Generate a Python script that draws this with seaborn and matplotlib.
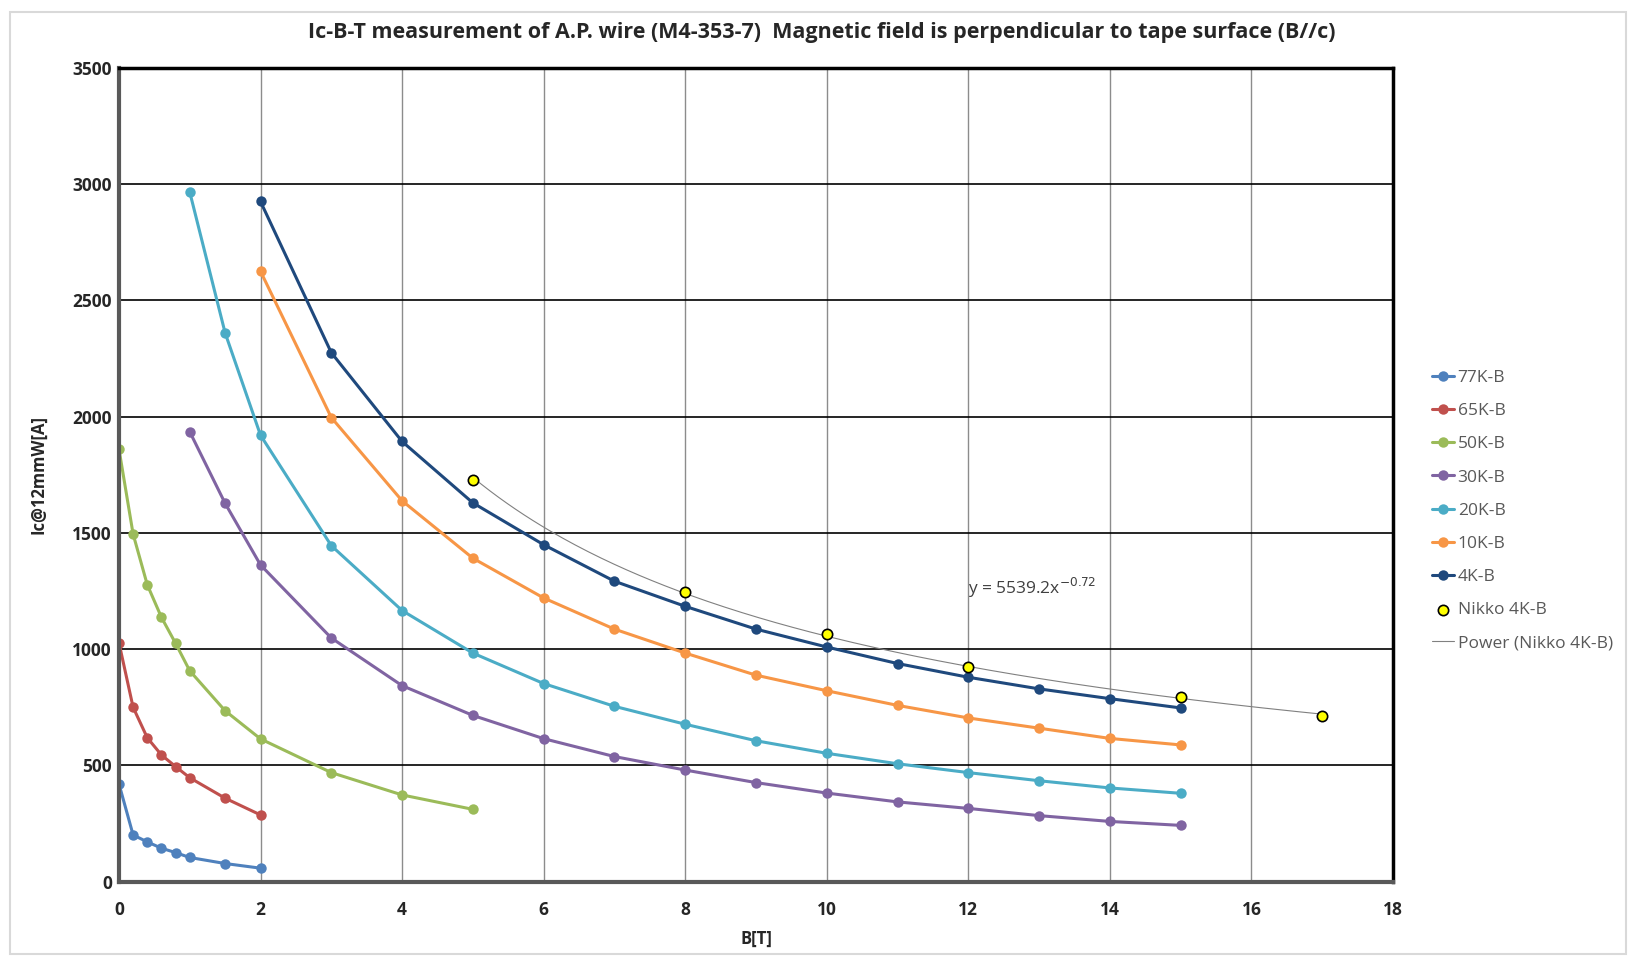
import numpy as np
import pandas as pd
import matplotlib
matplotlib.use("Agg")
import matplotlib.pyplot as plt
import seaborn as sns

# field values [T]
b_low = [0, 0.2, 0.4, 0.6, 0.8, 1.0, 1.5, 2]
b_50k = [0, 0.2, 0.4, 0.6, 0.8, 1.0, 1.5, 2, 3, 4, 5]
b_30k = [1, 1.5, 2, 3, 4, 5, 6, 7, 8, 9, 10, 11, 12, 13, 14, 15]
b_4k = [2, 3, 4, 5, 6, 7, 8, 9, 10, 11, 12, 13, 14, 15]
b_nikko = [5, 8, 10, 12, 15, 17]

# Ic values [A]
ic_77k = [421, 201, 171, 144, 125, 104, 78, 58]
ic_65k = [1028, 750, 619, 545, 495, 447, 359, 287]
ic_50k = [1861, 1495, 1277, 1137, 1025, 907, 735, 614, 469, 373, 311]
ic_30k = [1935, 1627, 1362, 1048, 843, 715, 615, 538, 480, 426, 381, 343, 315, 284, 259, 242]
ic_20k = [2966, 2360, 1920, 1445, 1166, 983, 852, 754, 677, 606, 552, 507, 469, 434, 403, 380]
ic_10k = [2625, 1996, 1638, 1391, 1220, 1086, 983, 888, 821, 758, 704, 660, 616, 588]
ic_4k = [2925, 2275, 1893, 1629, 1449, 1292, 1184, 1086, 1009, 938, 879, 829, 787, 747]
ic_nikko = [1727, 1247, 1063, 923, 792, 713]

fit_a = 5539.2
fit_k = -0.72

series = [
    ("77K-B", b_low, ic_77k, "#4F81BD"),
    ("65K-B", b_low, ic_65k, "#C0504D"),
    ("50K-B", b_50k, ic_50k, "#9BBB59"),
    ("30K-B", b_30k, ic_30k, "#8064A2"),
    ("20K-B", [1, 1.5] + b_4k, ic_20k, "#4BACC6"),
    ("10K-B", b_4k, ic_10k, "#F79646"),
    ("4K-B", b_4k, ic_4k, "#1F497D"),
]

sns.set_style("white")
plt.rcParams['font.family'] = ['Open Sans', 'DejaVu Sans']

fig = plt.figure(figsize=(16.36, 9.6), dpi=100)
ax = fig.add_axes([0.0727, 0.0816, 0.7788, 0.8478])

for name, xs, ys, col in series:
    df = pd.DataFrame({"B": xs, "Ic": ys})
    sns.lineplot(data=df, x="B", y="Ic", ax=ax, color=col, lw=2.2,
                 marker="o", markersize=7.5, markeredgewidth=0, label=name)

nikko = pd.DataFrame({"B": b_nikko, "Ic": ic_nikko})
sns.scatterplot(data=nikko, x="B", y="Ic", ax=ax, color="#FFFF00",
                edgecolor="black", linewidth=1.2, s=55, zorder=5,
                label="Nikko 4K-B")

xf = np.linspace(min(b_nikko), max(b_nikko), 200)
fit = pd.DataFrame({"B": xf, "Ic": fit_a * xf ** fit_k})
sns.lineplot(data=fit, x="B", y="Ic", ax=ax, color="#808080", lw=0.8,
             label="Power (Nikko 4K-B)", zorder=1)

ax.set_xlim(0, 18)
ax.set_ylim(0, 3500)
ax.set_xticks(range(0, 19, 2))
ax.set_yticks(range(0, 3501, 500))
ax.xaxis.grid(True, color="#8c8c8c", lw=1)
ax.yaxis.grid(True, color="black", lw=1.2)
ax.set_axisbelow(True)
for s in ["top", "right"]:
    ax.spines[s].set_color("black")
    ax.spines[s].set_linewidth(2.5)
for s in ["left", "bottom"]:
    ax.spines[s].set_color("#595959")
    ax.spines[s].set_linewidth(3)
ax.tick_params(axis="y", length=0, pad=5, labelsize=12.5)
ax.tick_params(axis="x", length=0, pad=14, labelsize=12.5)
for lab in ax.get_xticklabels() + ax.get_yticklabels():
    lab.set_fontweight("bold")

ax.set_xlabel("B[T]", fontsize=12, fontweight="bold", labelpad=8)
ax.set_ylabel("Ic@12mmW[A]", fontsize=12, fontweight="bold", labelpad=18)
fig.suptitle("Ic-B-T measurement of A.P. wire (M4-353-7)  Magnetic field is perpendicular to tape surface (B//c)",
             x=0.502, y=0.966, fontsize=15.5, fontweight="bold", va="center")

ax.text(12.0, 1235, "y = 5539.2x$^{-0.72}$", fontsize=12.5, color="#404040")

leg = ax.legend(loc="upper left", bbox_to_anchor=(1.018, 0.648), frameon=False,
                fontsize=12.5, labelspacing=0.98, handlelength=1.3,
                handletextpad=0.2, labelcolor="#595959")

fig.patches.append(plt.Rectangle((0.006, 0.006), 0.988, 0.982, transform=fig.transFigure,
                                 fill=False, edgecolor="#d9d9d9", lw=1.5))

fig.savefig("out.png", dpi=100)
